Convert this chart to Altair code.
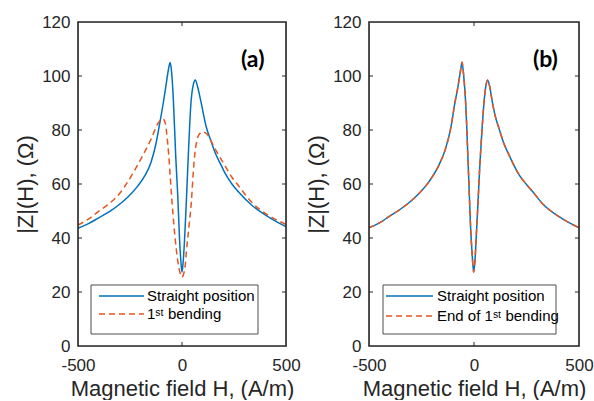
import altair as alt
import pandas as pd

# ---------------- data ----------------
# Panel (a)
a_straight_H = [-500, -450, -404, -340, -300, -260, -212, -180, -150, -125, -107, -90, -77, -65, -57, -50, -42,
                -30, -20, -12, -5, 0, 5, 12, 20, 30, 43, 55, 64, 75, 91, 117, 139, 157, 188, 205, 240, 269,
                333, 413, 460, 500]
a_straight_Z = [43.6, 45.3, 47.3, 50.2, 52.5, 55.2, 59.3, 62.9, 67.8, 75, 82.5, 90, 96.5, 102.5, 105, 101.5, 92,
                70, 55, 40, 31, 27.4, 30.5, 39, 52, 70, 90, 97, 98.5, 96, 90.5, 81, 76, 72, 67, 64.3, 60, 57.3,
                52.3, 47.9, 45.8, 44.2]
a_bent_H = [-500, -450, -404, -340, -300, -260, -196, -147, -115, -100, -91, -80, -72, -64, -56, -48, -38, -27,
            -15, -7, 0, 7, 15, 21, 33, 45, 53, 61, 70, 80, 100, 120, 141, 170, 205, 240, 269, 333, 413, 460, 500]
a_bent_Z = [44.8, 47, 49.7, 53.4, 56.5, 60.9, 69.5, 76.9, 82.5, 83.8, 84.1, 82.5, 77.5, 71, 62, 53.4, 44, 35.5,
            29, 26.5, 25.5, 26.5, 29.5, 35, 44, 53.4, 63, 70.7, 75.5, 78.1, 79.3, 78.5, 75.7, 71.5, 67, 62.5,
            59.6, 53.4, 48.5, 46.5, 45]
# Panel (b)
b_straight_H = [-500, -450, -405, -341, -300, -262, -214, -167, -135, -111, -90, -78, -65, -57, -49, -40, -27,
                -16, -8, -2, 5, 11, 19, 27, 38, 48, 57, 65, 75, 87, 100, 119, 140, 167, 214, 250, 278, 325,
                405, 450, 500]
b_straight_Z = [43.8, 45.6, 47.9, 51.2, 53.7, 56.5, 60.9, 67, 73.2, 80.6, 90.5, 95.3, 101.5, 105, 100, 90.5,
                65.8, 43.6, 33, 27.5, 32, 41, 53, 65.8, 80, 90.5, 96.5, 98.4, 96, 90.5, 85.5, 80.6, 75.5, 70.7,
                63.5, 59.8, 57.3, 52.8, 47.9, 45.8, 43.8]
b_bent_H = list(b_straight_H)
b_bent_Z = [43.8, 45.6, 47.9, 51.2, 53.7, 56.5, 60.9, 67, 73.2, 80.6, 90.5, 95.3, 101.5, 105.2, 100, 90.5,
            65.8, 43.6, 33, 27.3, 32, 41, 53, 65.8, 80, 90.5, 96.5, 98.5, 96, 90.5, 85.5, 80.6, 75.5, 70.7,
            63.5, 59.8, 57.3, 52.8, 47.9, 45.8, 43.8]

X_TICKS = [-500, 0, 500]
Y_TICKS = [0, 20, 40, 60, 80, 100, 120]
X_DOMAIN = [-500, 500]
Y_DOMAIN = [0, 120]
X_TITLE = "Magnetic field H, (A/m)"
Y_TITLE = "|Z|(H), (\u03a9)"
LEG_A = ["Straight position", "1\u02e2\u1d57 bending"]
LEG_B = ["Straight position", "End of 1\u02e2\u1d57 bending"]

BLUE = "#0072BD"
ORANGE = "#E6561E"
AX = "#262626"
FONT = "Arial, Liberation Sans, DejaVu Sans, sans-serif"
PH = 324


def panel(H1, Z1, H2, Z2, W, label, leg, texts):
    xs = alt.Scale(domain=X_DOMAIN, nice=False, zero=False)
    ys = alt.Scale(domain=Y_DOMAIN, nice=False, zero=False)
    xaxis = alt.Axis(values=X_TICKS, title=X_TITLE, grid=False, ticks=False, tickSize=0, domain=False,
                     labelExpr="'' + datum.value",
                     labelFont=FONT, labelFontSize=17, labelColor=AX, labelPadding=11, labelFlush=False,
                     titleFont=FONT, titleFontSize=22, titleFontWeight="normal", titleColor=AX,
                     titlePadding=5)
    yaxis = alt.Axis(values=Y_TICKS, title=Y_TITLE, grid=False, ticks=False, tickSize=0, domain=False,
                     labelExpr="'' + datum.value",
                     labelFont=FONT, labelFontSize=17, labelColor=AX, labelPadding=8, labelFlush=False,
                     titleFont=FONT, titleFontSize=22, titleFontWeight="normal", titleColor=AX,
                     titlePadding=4)
    X = alt.X("H:Q", scale=xs, axis=xaxis)
    Y = alt.Y("Z:Q", scale=ys, axis=yaxis)

    df1 = pd.DataFrame({"H": H1, "Z": Z1})
    df2 = pd.DataFrame({"H": H2, "Z": Z2})
    l1 = alt.Chart(df1).mark_line(color=BLUE, strokeWidth=1.5, interpolate="monotone").encode(x=X, y=Y)
    l2 = alt.Chart(df2).mark_line(color=ORANGE, strokeWidth=1.5, strokeDash=[6, 4],
                                  interpolate="monotone").encode(x=X, y=Y)

    ydf = pd.DataFrame({"Z": Y_TICKS[1:-1]})
    xdf = pd.DataFrame({"H": X_TICKS[1:-1]})
    yt_l = alt.Chart(ydf).mark_rule(color=AX, strokeWidth=1).encode(
        y=Y, x=alt.value(0), x2=alt.value(4))
    yt_r = alt.Chart(ydf).mark_rule(color=AX, strokeWidth=1).encode(
        y=Y, x=alt.value(W - 4), x2=alt.value(W))
    xt_b = alt.Chart(xdf).mark_rule(color=AX, strokeWidth=1).encode(
        x=X, y=alt.value(PH), y2=alt.value(PH - 4))
    xt_t = alt.Chart(xdf).mark_rule(color=AX, strokeWidth=1).encode(
        x=X, y=alt.value(0), y2=alt.value(4))

    one = pd.DataFrame({"k": [0]})
    frame = alt.Chart(one).mark_rect(fillOpacity=0, stroke=AX, strokeWidth=1.6).encode(
        x=alt.value(0), x2=alt.value(W), y=alt.value(0), y2=alt.value(PH))
    box = alt.Chart(one).mark_rect(fill="white", stroke="#4d4d4d", strokeWidth=1).encode(
        x=alt.value(leg["bx0"]), x2=alt.value(leg["bx1"]), y=alt.value(263), y2=alt.value(312))
    ln1 = alt.Chart(one).mark_rule(color=BLUE, strokeWidth=1.5).encode(
        x=alt.value(leg["lx0"]), x2=alt.value(leg["lx1"]), y=alt.value(274))
    ln2 = alt.Chart(one).mark_rule(color=ORANGE, strokeWidth=1.5, strokeDash=[6, 4]).encode(
        x=alt.value(leg["lx0"]), x2=alt.value(leg["lx1"]), y=alt.value(leg["y2"]))
    tx1 = alt.Chart(one).mark_text(align="left", baseline="middle", font=FONT, fontSize=15,
                                   color="black").encode(
        x=alt.value(leg["tx"]), y=alt.value(274), text=alt.value(texts[0]))
    tx2 = alt.Chart(one).mark_text(align="left", baseline="middle", font=FONT, fontSize=15,
                                   color="black").encode(
        x=alt.value(leg["tx"]), y=alt.value(leg["y2"]), text=alt.value(texts[1]))
    lab = alt.Chart(one).mark_text(align="center", baseline="middle", font="Lato", fontSize=23,
                                   fontWeight="bold", color="black").encode(
        x=alt.value(W * 0.84), y=alt.value(38), text=alt.value(label))

    return alt.layer(l1, l2, yt_l, yt_r, xt_b, xt_t, box, ln1, ln2, tx1, tx2, lab,
                     frame).properties(width=W, height=PH)


pa = panel(a_straight_H, a_straight_Z, a_bent_H, a_bent_Z, 208, "(a)",
           dict(bx0=13, bx1=180, lx0=21, lx1=66, tx=69, y2=292), LEG_A)
pb = panel(b_straight_H, b_straight_Z, b_bent_H, b_bent_Z, 210, "(b)",
           dict(bx0=14, bx1=187, lx0=17, lx1=64, tx=68, y2=294), LEG_B)

chart = alt.hconcat(pa, pb, spacing=83, bounds="flush").properties(
    padding={"left": 14, "top": 12, "right": 0, "bottom": 0}
).configure_view(stroke=None).configure(background="white")

chart.save("out.html", embed_options={"renderer": "svg", "actions": False})
